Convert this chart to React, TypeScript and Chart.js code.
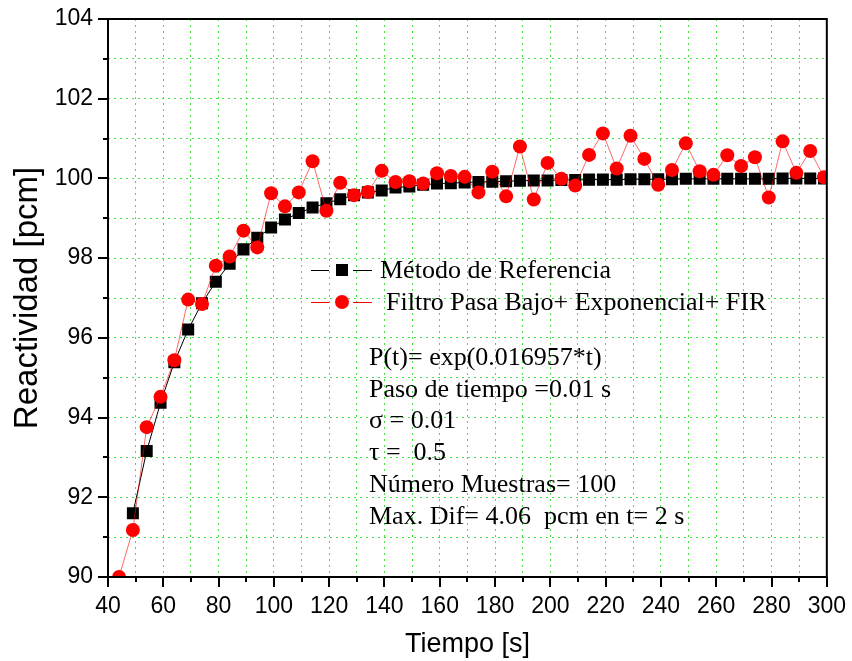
import { useEffect, useRef } from "react";
import { Chart, registerables } from "chart.js";

Chart.register(...registerables);

// ---- data ----
const tiempos = [
  44, 49, 54, 59, 64, 69, 74, 79, 84, 89, 94, 99, 104, 109, 114, 119, 124, 129,
  134, 139, 144, 149, 154, 159, 164, 169, 174, 179, 184, 189, 194, 199, 204,
  209, 214, 219, 224, 229, 234, 239, 244, 249, 254, 259, 264, 269, 274, 279,
  284, 289, 294, 299,
];

// first sample of the reference curve is not visible in the picture
const referencia: (number | null)[] = [
  null, 91.6, 93.16, 94.37, 95.39, 96.21, 96.87, 97.41, 97.86, 98.22, 98.51,
  98.77, 98.97, 99.13, 99.27, 99.38, 99.48, 99.58, 99.65, 99.7, 99.77, 99.8,
  99.84, 99.87, 99.88, 99.9, 99.91, 99.92, 99.93, 99.94, 99.95, 99.95, 99.96,
  99.96, 99.97, 99.97, 99.97, 99.98, 99.98, 99.98, 99.98, 99.99, 99.99, 99.99,
  99.99, 99.99, 99.99, 99.99, 100.0, 100.0, 100.0, 100.0,
];

const filtro = [
  90.0, 91.18, 93.76, 94.52, 95.44, 96.96, 96.85, 97.81, 98.04, 98.69, 98.27,
  99.63, 99.3, 99.65, 100.43, 99.19, 99.89, 99.58, 99.66, 100.19, 99.91, 99.93,
  99.87, 100.13, 100.06, 100.04, 99.65, 100.17, 99.55, 100.8, 99.47, 100.39,
  99.99, 99.82, 100.59, 101.13, 100.25, 101.07, 100.49, 99.84, 100.21, 100.88,
  100.18, 100.09, 100.58, 100.31, 100.53, 99.52, 100.93, 100.14, 100.69, 100.03,
];

const xTickLabels = [40, 60, 80, 100, 120, 140, 160, 180, 200, 220, 240, 260, 280, 300];
const yTickLabels = [90, 92, 94, 96, 98, 100, 102, 104];

const seriesNames = ["Método de Referencia", "Filtro Pasa Bajo+ Exponencial+ FIR"];

const notas = [
  "P(t)= exp(0.016957*t)",
  "Paso de tiempo =0.01 s",
  "σ = 0.01",
  "τ =  0.5",
  "Número Muestras= 100",
  "Max. Dif= 4.06  pcm en t= 2 s",
];

const SANS = "'Liberation Sans', Arial, sans-serif";
const SERIF = "'Liberation Serif', 'Times New Roman', serif";

export default function App() {
  const ref = useRef<HTMLCanvasElement | null>(null);

  useEffect(() => {
    document.body.style.margin = "0";
    const canvas = ref.current;
    if (!canvas) return;

    const overlay = {
      id: "overlay",
      afterDraw(chart: any) {
        const { ctx, chartArea: a, scales } = chart;
        const xs = scales.x;
        const ys = scales.y;
        ctx.save();
        // tick marks
        ctx.strokeStyle = "#000";
        ctx.lineWidth = 2;
        ctx.beginPath();
        xs.ticks.forEach((t: any) => {
          const px = Math.round(xs.getPixelForValue(t.value));
          const len = xTickLabels.includes(t.value) ? 10 : 5;
          ctx.moveTo(px, a.bottom);
          ctx.lineTo(px, a.bottom + len);
        });
        ys.ticks.forEach((t: any) => {
          const py = Math.round(ys.getPixelForValue(t.value));
          const len = yTickLabels.includes(t.value) ? 10 : 5;
          ctx.moveTo(a.left, py);
          ctx.lineTo(a.left - len, py);
        });
        ctx.stroke();
        // frame
        ctx.lineWidth = 2;
        ctx.strokeRect(a.left, a.top, a.right - a.left, a.bottom - a.top);

        // legend
        const lx = a.left + 203;
        const rows = [a.top + 251, a.top + 283];
        const colors = ["#000000", "#ff0000"];
        ctx.lineWidth = 1;
        rows.forEach((ry, i) => {
          ctx.strokeStyle = colors[i];
          ctx.fillStyle = colors[i];
          ctx.beginPath();
          ctx.moveTo(lx, ry + 0.5);
          ctx.lineTo(lx + 18, ry + 0.5);
          ctx.moveTo(lx + 42, ry + 0.5);
          ctx.lineTo(lx + 61, ry + 0.5);
          ctx.stroke();
          if (i === 0) {
            ctx.fillRect(lx + 25, ry - 6, 12, 12);
          } else {
            ctx.beginPath();
            ctx.arc(lx + 31, ry, 7, 0, Math.PI * 2);
            ctx.fill();
          }
          ctx.fillStyle = "#000";
          ctx.font = `26px ${SERIF}`;
          ctx.textBaseline = "middle";
          ctx.textAlign = "left";
          ctx.fillText(seriesNames[i], lx + (i === 0 ? 69 : 75), ry + 1);
        });

        // notes
        ctx.font = `26px ${SERIF}`;
        ctx.fillStyle = "#000";
        notas.forEach((n, i) => {
          ctx.fillText(n, a.left + 261, a.top + 339 + i * 31.8);
        });
        ctx.restore();
      },
    };

    const chart = new Chart(canvas, {
      type: "line",
      data: {
        datasets: [
          {
            label: seriesNames[1],
            data: tiempos.map((t, i) => ({ x: t, y: filtro[i] })),
            borderColor: "rgba(255,0,0,0.75)",
            backgroundColor: "#ff0000",
            borderWidth: 0.8,
            pointStyle: "circle",
            pointRadius: 7,
            pointBorderWidth: 0,
            pointBackgroundColor: "#ff0000",
            order: 0,
          },
          {
            label: seriesNames[0],
            data: tiempos.map((t, i) => ({ x: t, y: referencia[i] })),
            borderColor: "#000000",
            backgroundColor: "#000000",
            borderWidth: 1,
            pointStyle: "rect",
            pointRadius: 8.5,
            pointBorderWidth: 0,
            pointBackgroundColor: "#000000",
            spanGaps: false,
            order: 1,
          },
        ],
      },
      options: {
        responsive: false,
        animation: false,
        devicePixelRatio: 1,
        layout: { padding: { left: 0, top: 19, right: 21, bottom: 0 } },
        plugins: { legend: { display: false }, tooltip: { enabled: false } },
        scales: {
          x: {
            type: "linear",
            min: 40,
            max: 300,
            afterFit: (s: any) => {
              s.height = 84;
            },
            ticks: {
              stepSize: 10,
              autoSkip: false,
              maxRotation: 0,
              minRotation: 0,
              padding: 6,
              color: "#000",
              font: { family: SANS, size: 23 },
              callback: (v: any) => (xTickLabels.includes(Number(v)) ? String(v) : ""),
            },
            grid: {
              color: "#44e044",
              lineWidth: 1,
              drawTicks: true,
              tickLength: 10,
              tickColor: "rgba(0,0,0,0)",
            },
            border: { display: false, dash: [2, 4] },
            title: {
              display: true,
              text: "Tiempo [s]",
              color: "#000",
              font: { family: SANS, size: 27 },
              padding: { top: 0, bottom: 0 },
            },
          },
          y: {
            type: "linear",
            min: 90,
            max: 104,
            afterFit: (s: any) => {
              s.width = 108;
            },
            ticks: {
              stepSize: 1,
              autoSkip: false,
              padding: 5,
              color: "#000",
              font: { family: SANS, size: 23 },
              callback: (v: any) => (yTickLabels.includes(Number(v)) ? String(v) : ""),
            },
            grid: {
              color: "#44e044",
              lineWidth: 1,
              drawTicks: true,
              tickLength: 10,
              tickColor: "rgba(0,0,0,0)",
            },
            border: { display: false, dash: [2, 4] },
            title: {
              display: true,
              text: "Reactividad [pcm]",
              color: "#000",
              font: { family: SANS, size: 33 },
              padding: { top: 8, bottom: 0 },
            },
          },
        },
      },
      plugins: [overlay],
    } as any);

    return () => chart.destroy();
  }, []);

  return (
    <div style={{ width: 852, height: 661 }}>
      <canvas ref={ref} width={852} height={661} style={{ display: "block" }} />
    </div>
  );
}
